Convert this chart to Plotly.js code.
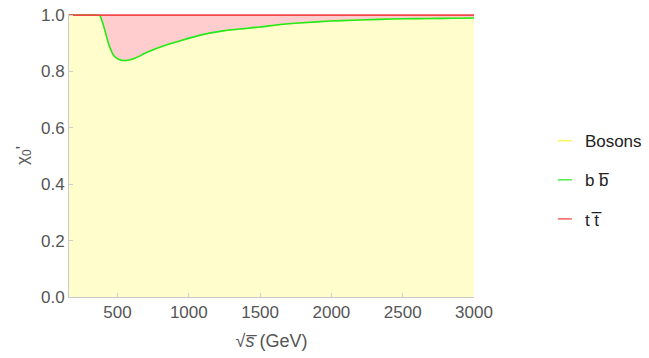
<!DOCTYPE html>
<html>
<head>
<meta charset="utf-8">
<script src="https://cdn.plot.ly/plotly-3.0.1.min.js"></script>
<style>
  html, body { margin: 0; padding: 0; background: #fff; }
  #chart { width: 649px; height: 358px; }
</style>
</head>
<body>
<div id="chart"></div>
<script>
// Centre-of-mass energy sqrt(s) in GeV
const sqrtS = [160, 250, 340, 375, 395, 416, 435, 451, 470, 486, 515, 544, 580, 626, 707, 800, 940, 1080, 1250, 1500, 1640, 1800, 1990, 2150, 2337, 2500, 2686, 2850, 3000];

// Cumulative chi0' : bosons (yellow area) topped by the b bbar channel (green line)
const chiBosonsBB = [1.0, 1.0, 1.0, 0.999, 0.975, 0.938, 0.903, 0.880, 0.860, 0.850, 0.842, 0.839, 0.841, 0.848, 0.868, 0.887, 0.909, 0.929, 0.945, 0.958, 0.967, 0.973, 0.979, 0.982, 0.985, 0.987, 0.988, 0.989, 0.990];

// Cumulative total including t tbar (red line)
const chiTotal = [1, 1, 1, 1, 1, 1, 1, 1, 1, 1, 1, 1, 1, 1, 1, 1, 1, 1, 1, 1, 1, 1, 1, 1, 1, 1, 1, 1, 1];

const legendNames = ['Bosons', 'b b\u0305', 't t\u0305'];
const seriesColors = ['#f4f05a', '#22e822', '#f04848'];
const legendKeyColors = ['#f8f560', '#55ee55', '#f76a6a'];
const fillColors = ['#fefdcb', '#ffcdcd'];

const FONT = 'Liberation Sans, Arial, sans-serif';

const traces = [
  // bosons area from zero up to the b bbar curve
  { x: sqrtS, y: chiBosonsBB, type: 'scatter', mode: 'lines', fill: 'tozeroy',
    fillcolor: fillColors[0], line: { width: 0, color: fillColors[0] },
    showlegend: false, hoverinfo: 'skip' },
  // t tbar area between the b bbar curve and the total
  { x: sqrtS, y: chiTotal, type: 'scatter', mode: 'lines', fill: 'tonexty',
    fillcolor: fillColors[1], line: { width: 0, color: fillColors[1] },
    showlegend: false, hoverinfo: 'skip' },
  // boundary lines
  { x: sqrtS, y: chiBosonsBB, type: 'scatter', mode: 'lines',
    line: { width: 1.5, color: seriesColors[0], shape: 'spline', smoothing: 0.6 }, showlegend: false },
  { x: sqrtS, y: chiBosonsBB, type: 'scatter', mode: 'lines',
    line: { width: 1.6, color: seriesColors[1], shape: 'spline', smoothing: 0.6 }, showlegend: false },
  { x: sqrtS, y: chiTotal, type: 'scatter', mode: 'lines',
    line: { width: 1.6, color: seriesColors[2] }, showlegend: false }
];

// short dash legend keys
legendNames.forEach((name, i) => {
  traces.push({
    x: [null], y: [null], type: 'scatter', mode: 'markers', name: name,
    legendgroup: 'g' + i,
    marker: { symbol: 'line-ew-open', size: 10, color: legendKeyColors[i],
              line: { width: 1.6, color: legendKeyColors[i] } }
  });
});

const layout = {
  width: 649, height: 358,
  margin: { l: 69, r: 175, t: 14, b: 61, pad: 0, autoexpand: false },
  paper_bgcolor: '#ffffff',
  plot_bgcolor: '#ffffff',
  font: { family: FONT, size: 17, color: '#555' },
  xaxis: {
    range: [160, 3000],
    tickvals: [500, 1000, 1500, 2000, 2500, 3000],
    ticktext: ['500', '1000', '1500', '2000', '2500', '3000'],
    showgrid: false, zeroline: false,
    showline: true, linecolor: '#c8c8c8', linewidth: 1,
    ticks: 'inside', ticklen: 4, tickcolor: '#cfcfcf',
    tickfont: { family: FONT, size: 17, color: '#555' },
    title: { text: '\u221A<i>s\u0305</i> (GeV)', font: { family: FONT, size: 18, color: '#555' }, standoff: 12 }
  },
  yaxis: {
    range: [0, 1.004],
    tickvals: [0, 0.2, 0.4, 0.6, 0.8, 1.0],
    ticktext: ['0.0', '0.2', '0.4', '0.6', '0.8', '1.0'],
    showgrid: false, zeroline: false,
    showline: true, linecolor: '#c8c8c8', linewidth: 1,
    ticks: 'inside', ticklen: 4, tickcolor: '#cfcfcf',
    tickfont: { family: FONT, size: 17, color: '#555' },
    title: { text: '\u03C7<sub>0</sub>\'', font: { family: FONT, size: 17, color: '#555' }, standoff: 8 }
  },
  legend: {
    x: 1.175, xanchor: 'left', y: 0.413, yanchor: 'middle',
    font: { family: FONT, size: 17, color: '#222' },
    tracegroupgap: 14, bgcolor: 'rgba(0,0,0,0)', borderwidth: 0
  },
  showlegend: true
};

Plotly.newPlot('chart', traces, layout, { staticPlot: true, displayModeBar: false });
</script>
</body>
</html>
